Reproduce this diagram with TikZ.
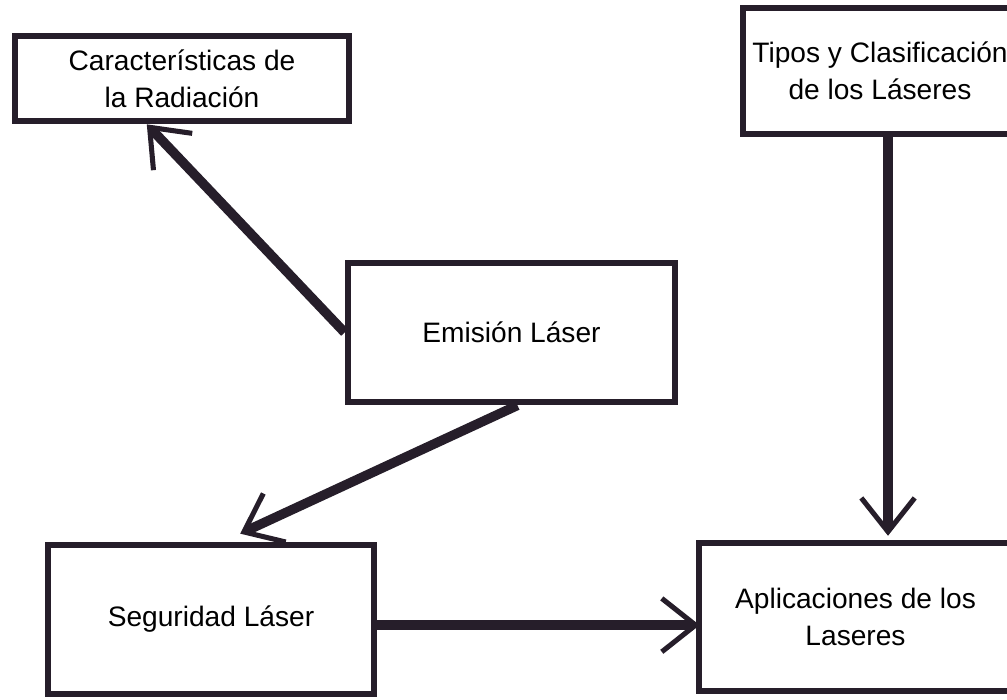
\documentclass[tikz,border=0pt]{standalone}
\usepackage{fontspec}
\setmainfont{Liberation Sans}
\usetikzlibrary{arrows.meta}

\definecolor{ink}{RGB}{38,30,42}

\begin{document}
\begin{tikzpicture}[x=0.025cm, y=-0.025cm]
      \tikzstyle{topic} = [
        rectangle,
        draw=ink,
        line width=4.6pt,
        align=center,
        font=\fontsize{20}{26}\selectfont
      ]

      \tikzstyle{link} = [
        draw=ink,
        line width=6.8pt,
        -{Straight Barb[length=24pt, width=38pt, line width=3.6pt]}
      ]

      \useasboundingbox (0,0) rectangle (1007,699);

      \node[topic, minimum width=8.35cm, minimum height=2.13cm] (caract) at (182,78.5)
        {Características de\\la Radiación};
      \node[topic, minimum width=6.85cm, minimum height=3.15cm] (tipos) at (880,71)
        {Tipos y Clasificación\\de los Láseres};
      \node[topic, minimum width=8.18cm, minimum height=3.48cm] (emision) at (511.5,332.5)
        {Emisión Láser};
      \node[topic, minimum width=8.15cm, minimum height=3.73cm] (seguridad) at (211,619.5)
        {Seguridad Láser};
      \node[topic, minimum width=7.83cm, minimum height=3.7cm] (aplic) at (855.5,617)
        {Aplicaciones de los\\Laseres};

      \draw[link] (emision.west) -- ([xshift=-0.88cm]caract.south);
      \draw[link] ([xshift=0.15cm]emision.south) -- ([xshift=0.73cm, yshift=0.2cm]seguridad.north);
      \draw[link] ([yshift=-0.14cm]seguridad.east) -- ([yshift=-0.14cm, xshift=0.1cm]seguridad.east -| aplic.west);
      \draw[link] ([xshift=0.2cm]tipos.south) -- ([xshift=0.2cm, yshift=0.1cm]tipos.south |- aplic.north);
    \end{tikzpicture}
\end{document}
